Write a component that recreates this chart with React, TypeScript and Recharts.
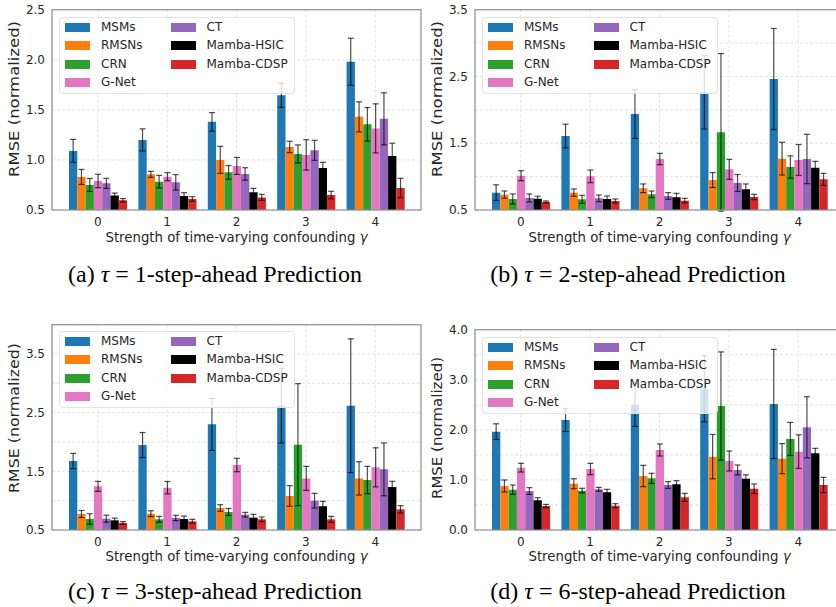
import { BarChart, Bar, XAxis, YAxis, CartesianGrid, ErrorBar, Legend } from "recharts";

const gammas = ["0", "1", "2", "3", "4"];
const methods = ["MSMs", "RMSNs", "CRN", "G-Net", "CT", "Mamba-HSIC", "Mamba-CDSP"];
const colors = ["#1f77b4", "#ff7f0e", "#2ca02c", "#e377c2", "#9467bd", "#000000", "#d62728"];

// tau = 1 (rows follow `methods`, columns follow `gammas`)
const mean1 = [
  [1.09, 1.2, 1.38, 1.645, 1.98],
  [0.83, 0.856, 1.0, 1.13, 1.43],
  [0.75, 0.783, 0.876, 1.06, 1.355],
  [0.79, 0.833, 0.94, 1.05, 1.315],
  [0.766, 0.776, 0.86, 1.096, 1.41],
  [0.646, 0.64, 0.676, 0.919, 1.04],
  [0.597, 0.61, 0.626, 0.65, 0.72],
];
const err1 = [
  [0.115, 0.11, 0.093, 0.12, 0.235],
  [0.075, 0.03, 0.135, 0.057, 0.15],
  [0.065, 0.063, 0.068, 0.09, 0.168],
  [0.067, 0.04, 0.085, 0.152, 0.245],
  [0.05, 0.077, 0.062, 0.1, 0.26],
  [0.023, 0.033, 0.04, 0.057, 0.127],
  [0.017, 0.023, 0.03, 0.037, 0.097],
];

// tau = 2
const mean2 = [
  [0.76, 1.608, 1.938, 2.262, 2.462],
  [0.73, 0.76, 0.825, 0.949, 1.269],
  [0.665, 0.66, 0.735, 1.663, 1.144],
  [1.014, 1.004, 1.264, 1.109, 1.249],
  [0.68, 0.675, 0.71, 0.904, 1.264],
  [0.67, 0.665, 0.69, 0.81, 1.134],
  [0.62, 0.635, 0.64, 0.695, 0.959],
];
const err2 = [
  [0.117, 0.177, 0.365, 0.55, 0.757],
  [0.055, 0.055, 0.065, 0.112, 0.245],
  [0.075, 0.06, 0.05, 1.18, 0.167],
  [0.075, 0.095, 0.085, 0.15, 0.232],
  [0.06, 0.05, 0.05, 0.127, 0.37],
  [0.037, 0.045, 0.06, 0.08, 0.095],
  [0.015, 0.03, 0.035, 0.04, 0.09],
];

// tau = 3
const mean3 = [
  [1.676, 1.949, 2.301, 2.619, 2.619],
  [0.773, 0.778, 0.875, 1.08, 1.38],
  [0.688, 0.682, 0.807, 1.955, 1.352],
  [1.244, 1.222, 1.608, 1.38, 1.568],
  [0.693, 0.705, 0.761, 1.0, 1.534],
  [0.665, 0.688, 0.71, 0.903, 1.233],
  [0.62, 0.648, 0.682, 0.682, 0.852],
];
const err3 = [
  [0.13, 0.213, 0.443, 0.636, 1.14],
  [0.06, 0.05, 0.057, 0.176, 0.284],
  [0.09, 0.05, 0.06, 1.04, 0.233],
  [0.085, 0.105, 0.114, 0.205, 0.333],
  [0.06, 0.045, 0.04, 0.125, 0.45],
  [0.037, 0.05, 0.057, 0.085, 0.097],
  [0.023, 0.034, 0.04, 0.05, 0.063],
];

// tau = 6
const mean6 = [
  [1.964, 2.197, 2.5, 2.82, 2.517],
  [0.879, 0.925, 1.079, 1.465, 1.425],
  [0.806, 0.786, 1.032, 2.477, 1.818],
  [1.245, 1.218, 1.598, 1.378, 1.565],
  [0.779, 0.812, 0.899, 1.198, 2.051],
  [0.593, 0.752, 0.912, 1.025, 1.531],
  [0.479, 0.486, 0.652, 0.826, 0.899],
];
const err6 = [
  [0.157, 0.23, 0.43, 0.66, 1.09],
  [0.12, 0.1, 0.213, 0.443, 0.3],
  [0.093, 0.047, 0.1, 1.08, 0.33],
  [0.087, 0.113, 0.12, 0.2, 0.336],
  [0.067, 0.04, 0.067, 0.1, 0.61],
  [0.053, 0.06, 0.073, 0.077, 0.1],
  [0.033, 0.04, 0.08, 0.093, 0.153],
];

const ticksA = [0.5, 1, 1.5, 2, 2.5];
const labelsA = [0.5, 1, 1.5, 2, 2.5];
const ticksB = [0.5, 1, 1.5, 2, 2.5, 3, 3.5];
const labelsB = [0.5, 1.5, 2.5, 3.5];
const ticksC = [0.5, 1, 1.5, 2, 2.5, 3, 3.5];
const labelsC = [0.5, 1.5, 2.5, 3.5];
const ticksD = [0, 0.5, 1, 1.5, 2, 2.5, 3, 3.5, 4];
const labelsD = [0, 1, 2, 3, 4];

const SANS = '"DejaVu Sans", sans-serif';
const SERIF = '"Liberation Serif", "DejaVu Serif", serif';
const INK = "#262626";
const FRAME = "#8f8f8f";
const GRID = "#dadada";

const panels = [
  { tag: "a", step: "1", mean: mean1, err: err1, domain: [0.5, 2.5], ticks: ticksA, labels: labelsA, left: 0, chartTop: 0, plotTop: 9.7, plotBottom: 210, legendGap: 7, yMid: 99, yLen: 156 },
  { tag: "b", step: "2", mean: mean2, err: err2, domain: [0.5, 3.5], ticks: ticksB, labels: labelsB, left: 423, chartTop: 0, plotTop: 9.7, plotBottom: 210, legendGap: 7, yMid: 99, yLen: 156 },
  { tag: "c", step: "3", mean: mean3, err: err3, domain: [0.5, 4.0], ticks: ticksC, labels: labelsC, left: 0, chartTop: 300, plotTop: 324.7, plotBottom: 530, legendGap: 6, yMid: 418, yLen: 150 },
  { tag: "d", step: "6", mean: mean6, err: err6, domain: [0, 4], ticks: ticksD, labels: labelsD, left: 423, chartTop: 300, plotTop: 329.7, plotBottom: 530, legendGap: 7, yMid: 428, yLen: 142 },
];

const AXIS_W = 52;
const PLOT_W = 369;

function LegendBox() {
  return (
    <div
      style={{
        position: "relative",
        width: 236,
        height: 77,
        boxSizing: "border-box",
        background: "rgba(255,255,255,0.8)",
        border: "1px solid #e2e2e2",
        borderRadius: 4,
        fontFamily: SANS,
        fontSize: 12,
        color: INK,
      }}
    >
      {methods.map((m, k) => {
        const col = k < 4 ? 0 : 1;
        const row = k < 4 ? k : k - 4;
        const cy = 9.6 + row * 18.5;
        return (
          <div key={m}>
            <div
              style={{
                position: "absolute",
                left: col ? 111 : 4.5,
                top: cy - 4.7,
                width: 25,
                height: 9.4,
                background: colors[k],
              }}
            />
            <div
              style={{
                position: "absolute",
                left: col ? 146.5 : 41,
                top: cy - 7.5,
                lineHeight: "15px",
                whiteSpace: "nowrap",
              }}
            >
              {m}
            </div>
          </div>
        );
      })}
    </div>
  );
}

function Panel({ p }: { p: (typeof panels)[number] }) {
  const data = gammas.map((g, i) => {
    const row: Record<string, string | number> = { gamma: g };
    methods.forEach((_, k) => {
      row[`m${k}`] = p.mean[k][i];
      row[`e${k}`] = p.err[k][i];
    });
    return row;
  });
  const mTop = p.plotTop - p.chartTop;
  const plotH = p.plotBottom - p.plotTop;
  const chartH = mTop + plotH + 22;
  const fmt = (v: number) => (p.labels.includes(v) ? v.toFixed(1) : "");

  return (
    <div style={{ position: "absolute", left: p.left, top: p.chartTop }}>
      <BarChart
        width={AXIS_W + PLOT_W}
        height={chartH}
        data={data}
        margin={{ top: mTop, right: 0, bottom: 0, left: 0 }}
        barGap={0}
      >
        <CartesianGrid stroke={GRID} strokeDasharray="3 2" strokeWidth={0.8} />
        <XAxis
          dataKey="gamma"
          padding={{ left: 11, right: 11 }}
          axisLine={false}
          tickLine={false}
          tickSize={0}
          tickMargin={7}
          height={22}
          interval={0}
          tick={{ fontSize: 12, fill: INK, fontFamily: SANS }}
        />
        <YAxis
          width={AXIS_W}
          domain={p.domain}
          allowDataOverflow
          ticks={p.ticks}
          tickFormatter={fmt}
          axisLine={false}
          tickLine={false}
          tickSize={0}
          tickMargin={7}
          interval={0}
          tick={{ fontSize: 12, fill: INK, fontFamily: SANS }}
        />
        <Legend
          layout="vertical"
          align="center"
          verticalAlign="middle"
          content={() => <LegendBox />}
          wrapperStyle={{ left: AXIS_W + 7, top: mTop + p.legendGap, width: 236, height: 77 }}
        />
        {methods.map((m, k) => (
          <Bar key={m} dataKey={`m${k}`} name={m} fill={colors[k]} barSize={8.3} isAnimationActive={false}>
            <ErrorBar dataKey={`e${k}`} width={3} strokeWidth={1.2} stroke="rgba(0,0,0,0.7)" />
          </Bar>
        ))}
      </BarChart>
    </div>
  );
}

function Titles() {
  return (
    <svg width={836} height={607} style={{ position: "absolute", left: 0, top: 0, pointerEvents: "none" }}>
      {panels.map((p) => {
        const plotL = p.left + AXIS_W;
        const labelY = p.chartTop === 0 ? 241.5 : 561;
        const capY = p.chartTop === 0 ? 282 : 599;
        return (
          <g key={p.tag}>
            <rect
              x={plotL}
              y={p.plotTop}
              width={PLOT_W}
              height={p.plotBottom - p.plotTop}
              fill="none"
              stroke={FRAME}
              strokeWidth={1.2}
            />
            <text
              x={p.left + 14}
              y={p.yMid}
              transform={`rotate(-90, ${p.left + 14}, ${p.yMid})`}
              textAnchor="middle"
              dominantBaseline="central"
              fontFamily={SANS}
              fontSize={13.5}
              textLength={p.yLen}
              lengthAdjust="spacingAndGlyphs"
              fill={INK}
            >
              RMSE (normalized)
            </text>
            <text x={plotL + 11 + 173.5} y={labelY} textAnchor="middle" fontFamily={SANS} fontSize={13.3} fill={INK}>
              Strength of time-varying confounding <tspan fontStyle="italic">γ</tspan>
            </text>
            <text x={p.left + 215} y={capY} textAnchor="middle" fontFamily={SERIF} fontSize={24} fill="#000">
              ({p.tag}) <tspan fontStyle="italic">τ</tspan>
              {" = "}
              {p.step}-step-ahead Prediction
            </text>
          </g>
        );
      })}
    </svg>
  );
}

export default function App() {
  return (
    <div
      style={{
        position: "absolute",
        left: 0,
        top: 0,
        width: 836,
        height: 607,
        overflow: "hidden",
        background: "#fff",
      }}
    >
      {panels.map((p) => (
        <Panel key={p.tag} p={p} />
      ))}
      <Titles />
    </div>
  );
}
